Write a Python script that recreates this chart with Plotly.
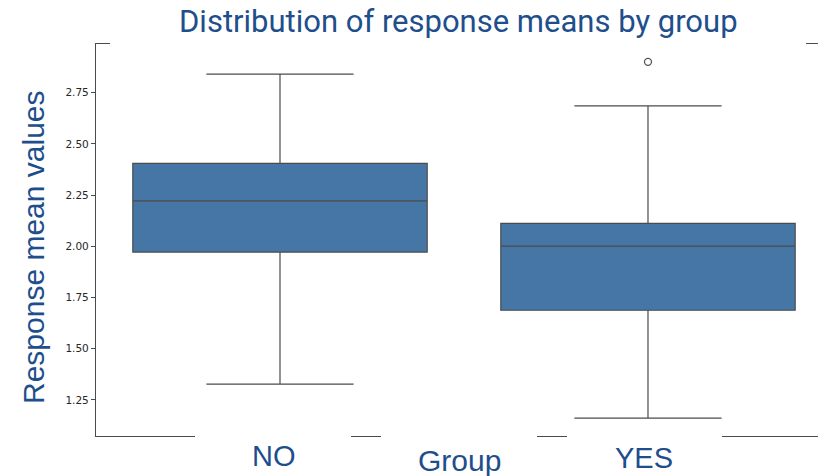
import plotly.graph_objects as go

# Summary statistics of the response means for each group
groups = ["NO", "YES"]
q1_vals = [1.972, 1.688]
median_vals = [2.222, 2.001]
q3_vals = [2.405, 2.112]
lower_whisker = [1.327, 1.161]
upper_whisker = [2.841, 2.686]

# Points beyond the whiskers
outlier_groups = ["YES"]
outlier_vals = [2.901]

y_ticks = [1.25, 1.50, 1.75, 2.00, 2.25, 2.50, 2.75]

W, H = 818, 476
ML, MR, MT, MB = 96, 0, 44, 40
PW, PH = W - ML - MR, H - MT - MB

BLUE = "#1E4E8C"
BOX_FILL = "#4676A5"
LINE = "#4b4b4b"


def px(x):
    return (x - ML) / PW


def py(y):
    return (H - MB - y) / PH


fig = go.Figure()

fig.add_trace(go.Box(
    x=groups,
    q1=q1_vals,
    median=median_vals,
    q3=q3_vals,
    lowerfence=lower_whisker,
    upperfence=upper_whisker,
    width=0.8,
    whiskerwidth=0.5,
    boxpoints=False,
    fillcolor=BOX_FILL,
    line=dict(color=LINE, width=1.2),
    showlegend=False,
    hoverinfo="skip",
))

fig.add_trace(go.Scatter(
    x=outlier_groups,
    y=outlier_vals,
    mode="markers",
    marker=dict(symbol="circle-open", size=7, color="#555555", line=dict(width=1.3)),
    showlegend=False,
    hoverinfo="skip",
))

# White label panels laid over the frame
panels = [
    (110, 0, 806, 47),
    (195, 430, 351, H),
    (381, 430, 537, H),
    (567, 430, 722, H),
]
shapes = []
for x0, y0, x1, y1 in panels:
    shapes.append(dict(
        type="rect", xref="paper", yref="paper", layer="above",
        x0=px(x0), x1=px(x1), y0=py(y1), y1=py(y0),
        fillcolor="white", line=dict(width=0),
    ))

annotations = [
    dict(text="Distribution of response means by group", x=px(458.5), y=py(21),
         font=dict(family="Roboto", size=31, color=BLUE)),
    dict(text="Response mean values", x=px(34), y=py(247), textangle=-90,
         font=dict(family="Liberation Sans", size=30, color=BLUE)),
    dict(text="NO", x=px(273.5), y=py(456), font=dict(family="Liberation Sans", size=29, color=BLUE)),
    dict(text="Group", x=px(459), y=py(460), font=dict(family="Liberation Sans", size=30, color=BLUE)),
    dict(text="YES", x=px(643.5), y=py(458), font=dict(family="Liberation Sans", size=29, color=BLUE)),
]
for a in annotations:
    a.update(xref="paper", yref="paper", showarrow=False, xanchor="center", yanchor="middle")

fig.update_layout(
    width=W, height=H,
    margin=dict(l=ML, r=MR, t=MT, b=MB, pad=0),
    paper_bgcolor="white", plot_bgcolor="white",
    shapes=shapes,
    annotations=annotations,
    xaxis=dict(
        type="category", range=[-0.5, 1.462],
        showline=True, linecolor=LINE, linewidth=1.2, mirror=True,
        showticklabels=False, ticks="", showgrid=False, zeroline=False,
    ),
    yaxis=dict(
        range=[1.074, 2.988],
        tickvals=y_ticks, ticktext=[f"{v:.2f}" for v in y_ticks],
        ticks="outside", ticklen=4, tickwidth=1.2, tickcolor=LINE,
        tickfont=dict(family="DejaVu Sans", size=10.5, color="#262626"),
        showline=True, linecolor=LINE, linewidth=1.2, mirror=False,
        showgrid=False, zeroline=False,
    ),
)

fig.write_html("out.html")
